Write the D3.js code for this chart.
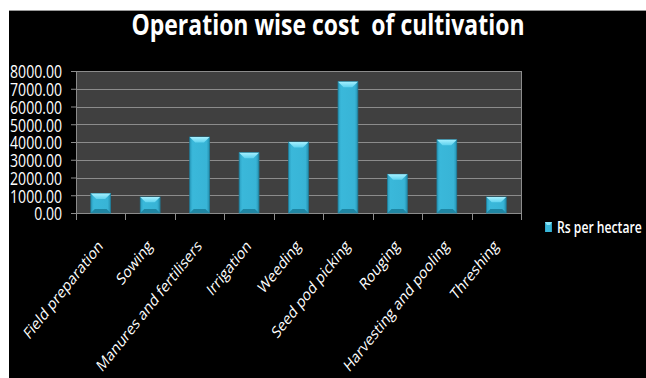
<!DOCTYPE html>
<html>
<head>
<meta charset="utf-8">
<script src="https://cdn.jsdelivr.net/npm/d3@7"></script>
<style>
  html, body { margin: 0; padding: 0; background: #fff; }
  svg { display: block; }
</style>
</head>
<body>
<svg id="chart"></svg>
<script>
const categories = ['Field preparation', 'Sowing', 'Manures and fertilisers', 'Irrigation',
    'Weeding', 'Seed pod picking', 'Rouging', 'Harvesting and pooling', 'Threshing'];
const costs = [1100, 900, 4280, 3400, 4000, 7400, 2180, 4130, 900];
const yTicks = [0, 1000, 2000, 3000, 4000, 5000, 6000, 7000, 8000];
const seriesName = 'Rs per hectare';
const title = 'Operation wise cost\u00a0 of cultivation';

const width = 646;
const height = 378;
const font = '"Open Sans", sans-serif';
const margin = {top: 71, left: 76, right: 125, bottom: 165};

// the original picture is stretched vertically, so text looks narrow
function squeeze(selection, factor) {
    selection.each(function() {
        const w = this.getComputedTextLength();
        d3.select(this)
            .attr('textLength', w * factor)
            .attr('lengthAdjust', 'spacingAndGlyphs');
    });
}

const svg = d3.select('#chart')
    .attr('width', width)
    .attr('height', height);

// black canvas with the white strips on top and left
svg.append('rect')
    .attr('x', 9).attr('y', 10)
    .attr('width', width - 9).attr('height', height - 10)
    .attr('fill', '#000');
svg.append('line')
    .attr('x1', 9).attr('x2', width).attr('y1', 10.5).attr('y2', 10.5)
    .attr('stroke', '#999');

const defs = svg.append('defs');
const grad = defs.append('linearGradient')
    .attr('id', 'barFill')
    .attr('x1', 0).attr('x2', 1).attr('y1', 0).attr('y2', 0);
grad.append('stop').attr('offset', 0).attr('stop-color', '#2a9ec0');
grad.append('stop').attr('offset', 0.15).attr('stop-color', '#3ab8da');
grad.append('stop').attr('offset', 0.85).attr('stop-color', '#38b4d6');
grad.append('stop').attr('offset', 1).attr('stop-color', '#2590b0');

const topGrad = defs.append('linearGradient')
    .attr('id', 'bevelFill')
    .attr('x1', 0).attr('x2', 0).attr('y1', 0).attr('y2', 1);
topGrad.append('stop').attr('offset', 0).attr('stop-color', '#a6f0ff');
topGrad.append('stop').attr('offset', 1).attr('stop-color', '#5fd2ee');

const x = d3.scaleBand()
    .domain(categories)
    .range([margin.left, width - margin.right])
    .paddingInner(0.6)
    .paddingOuter(0.3);

const y = d3.scaleLinear()
    .domain([0, 8000])
    .range([height - margin.bottom, margin.top]);

const plotW = width - margin.right - margin.left;
const plotH = height - margin.bottom - margin.top;

svg.append('rect')
    .attr('x', margin.left).attr('y', margin.top)
    .attr('width', plotW).attr('height', plotH)
    .attr('fill', '#404040');

// grid lines
svg.append('g')
    .selectAll('line')
    .data(yTicks.slice(1))
    .enter()
    .append('line')
    .attr('x1', margin.left)
    .attr('x2', width - margin.right)
    .attr('y1', function(d) { return Math.round(y(d)) + 0.5; })
    .attr('y2', function(d) { return Math.round(y(d)) + 0.5; })
    .attr('stroke', '#8c8c8c')
    .attr('stroke-width', 1.2);

svg.append('line')
    .attr('x1', width - margin.right + 0.5).attr('x2', width - margin.right + 0.5)
    .attr('y1', margin.top).attr('y2', height - margin.bottom)
    .attr('stroke', '#8c8c8c');

// y axis
const yAxis = svg.append('g')
    .attr('transform', `translate(${margin.left}, 0)`)
    .call(d3.axisLeft(y).tickValues(yTicks).tickFormat(d3.format('.2f')).tickSize(5).tickPadding(9));
yAxis.select('.domain').attr('stroke', '#8c8c8c');
yAxis.selectAll('.tick line').attr('stroke', '#8c8c8c');
yAxis.selectAll('text')
    .attr('fill', '#fff')
    .attr('dy', '0.36em')
    .style('font-family', font)
    .style('font-size', '19px')
    .call(squeeze, 0.74);

// x axis: ticks sit between categories
const bounds = d3.range(categories.length + 1).map(function(i) {
    return margin.left + i * plotW / categories.length;
});
svg.append('line')
    .attr('x1', margin.left).attr('x2', width - margin.right)
    .attr('y1', y(0) + 0.5).attr('y2', y(0) + 0.5)
    .attr('stroke', '#8c8c8c');
svg.append('g')
    .selectAll('line')
    .data(bounds)
    .enter()
    .append('line')
    .attr('x1', function(d) { return Math.round(d) + 0.5; })
    .attr('x2', function(d) { return Math.round(d) + 0.5; })
    .attr('y1', y(0))
    .attr('y2', y(0) + 7)
    .attr('stroke', '#8c8c8c');

svg.append('g')
    .selectAll('text')
    .data(categories)
    .enter()
    .append('text')
    .attr('transform', function(d) {
        const cx = x(d) + x.bandwidth() / 2 + 3;
        return `translate(${cx}, ${y(0) + 34}) scale(0.8, 1) rotate(-45)`;
    })
    .attr('text-anchor', 'end')
    .attr('fill', '#fff')
    .style('font-family', font)
    .style('font-size', '16.5px')
    .text(function(d) { return d; });

// bars with a bevelled top
const bar = svg.append('g')
    .selectAll('g')
    .data(costs)
    .enter()
    .append('g');

bar.append('rect')
    .attr('x', function(d, i) { return x(categories[i]); })
    .attr('y', function(d) { return y(d); })
    .attr('width', x.bandwidth())
    .attr('height', function(d) { return y(0) - y(d); })
    .attr('fill', 'url(#barFill)')
    .attr('stroke', '#1f7f9c')
    .attr('stroke-width', 0.8);

bar.append('path')
    .attr('d', function(d, i) {
        const x0 = x(categories[i]);
        const w = x.bandwidth();
        const t = y(d);
        const b = Math.min(5.5, (y(0) - y(d)) / 3);
        return `M${x0},${t}L${x0 + w},${t}L${x0 + w - b},${t + b}L${x0 + b},${t + b}Z`;
    })
    .attr('fill', 'url(#bevelFill)');

bar.append('path')
    .attr('d', function(d, i) {
        const x0 = x(categories[i]);
        const w = x.bandwidth();
        const b = Math.min(4, (y(0) - y(d)) / 4);
        const base = y(0);
        return `M${x0},${base}L${x0 + w},${base}L${x0 + w - b},${base - b}L${x0 + b},${base - b}Z`;
    })
    .attr('fill', '#1f86a3');

// title
svg.append('text')
    .attr('x', 328)
    .attr('y', 35)
    .attr('text-anchor', 'middle')
    .attr('fill', '#fff')
    .style('font-family', font)
    .style('font-weight', 'bold')
    .style('font-size', '28px')
    .text(title)
    .call(squeeze, 0.82);

// legend
const legend = svg.append('g')
    .attr('transform', 'translate(545, 222)');
legend.append('rect')
    .attr('width', 7).attr('height', 10)
    .attr('fill', 'url(#barFill)');
legend.append('path')
    .attr('d', 'M0,0L7,0L5,3L2,3Z')
    .attr('fill', '#8ae4f7');
legend.append('text')
    .attr('x', 12)
    .attr('y', 11)
    .attr('fill', '#fff')
    .style('font-family', font)
    .style('font-weight', '600')
    .style('font-size', '16px')
    .text(seriesName)
    .call(squeeze, 0.76);
</script>
</body>
</html>
